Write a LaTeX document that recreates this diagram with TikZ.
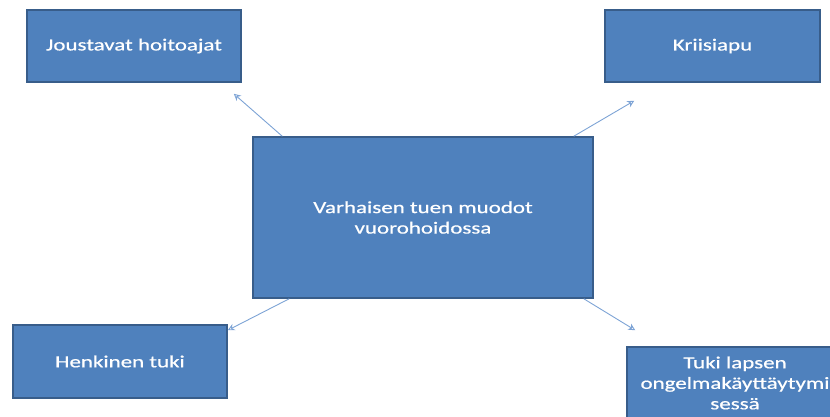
\documentclass[tikz,border=0pt]{standalone}
\usepackage{fontspec}
\setmainfont{Carlito}[FakeStretch=1.35,FakeBold=0.6]
\usetikzlibrary{calc,arrows.meta}
\definecolor{boxblue}{HTML}{4F81BD}
\definecolor{boxedge}{HTML}{385D8A}
\definecolor{arrowblue}{HTML}{7DA3D5}
\tikzset{
  formbox/.style={draw=boxedge,line width=1.5pt,fill=boxblue,text=white,
    minimum width=#1,align=center,inner sep=0pt,font=\fontsize{17}{20.5}\selectfont},
  formbox/.default=214pt,
  arr/.style={-{Stealth[open,length=7pt,width=7pt]},color=arrowblue,line width=0.9pt}
}
\begin{document}
\begin{tikzpicture}[x=1pt,y=1pt]
		\useasboundingbox (0,0) rectangle (830,416);
		\node[formbox,minimum height=72pt] (joust) at (134,370) {Joustavat hoitoajat};
		\node[formbox=215pt,minimum height=72pt] (kriisi) at (712.5,370) {Kriisiapu};
		\node[formbox=340pt,minimum height=161pt] (vuoro) at (423,198.5) {Varhaisen tuen muodot\\vuorohoidossa};
		\node[formbox,minimum height=73pt] (henk) at (120,54.5) {Henkinen tuki};
		\node[formbox=216pt,minimum height=72pt] (tuki) at (735,33) {Tuki lapsen\\ongelmakäyttäytymi\\sessä};
		\draw[arr] ($(vuoro.north west)+(30,0)$) -- ($(joust.south east)+(-8,-11)$);
		\draw[arr] ($(vuoro.north east)+(-20,0)$) -- ($(kriisi.south west)+(30,-18)$);
		\draw[arr] ($(vuoro.south west)+(37,0)$) -- ($(henk.north east)+(0,-6)$);
		\draw[arr] ($(vuoro.south east)+(-10,0)$) -- ($(tuki.north west)+(9,16)$);
		\end{tikzpicture}
\end{document}
